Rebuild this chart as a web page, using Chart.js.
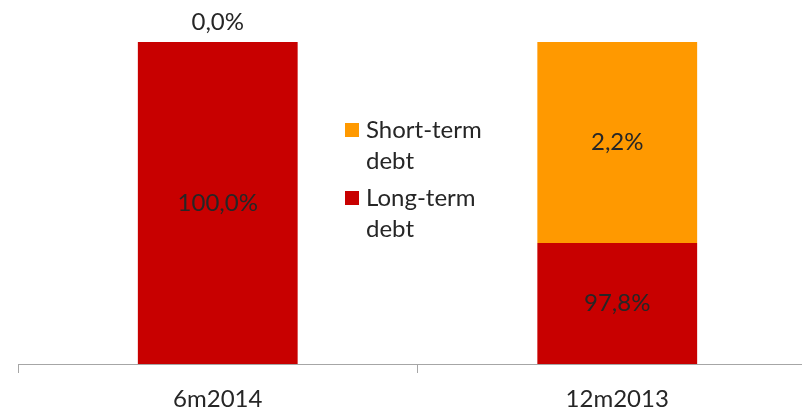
<!DOCTYPE html>
<html>
<head>
<meta charset="utf-8">
<script src="https://cdn.jsdelivr.net/npm/chart.js@4/dist/chart.umd.min.js"></script>
<style>
  html, body { margin: 0; padding: 0; background: #fff; overflow: hidden; }
  #wrap { position: relative; width: 818px; height: 410px; }
</style>
</head>
<body>
<div id="wrap"><canvas id="debtChart"></canvas></div>
<script>
const categories = ['6m2014', '12m2013'];
// bar heights as drawn in the picture (share of the full bar)
const longTerm = [100, 37.6];
const shortTerm = [0, 62.4];
// label texts printed on the bars
const longLabels = ['100,0%', '97,8%'];
const shortLabels = ['0,0%', '2,2%'];

const RED = '#C80000';
const ORANGE = '#FF9900';
const TEXT = '#262626';
const FONT = 'Lato, "Open Sans", sans-serif';

const barLabels = {
  id: 'barLabels',
  afterDatasetsDraw(chart) {
    const ctx = chart.ctx;
    ctx.save();
    ctx.font = '24px ' + FONT;
    ctx.fillStyle = TEXT;
    ctx.textAlign = 'center';
    ctx.textBaseline = 'middle';
    chart.data.datasets.forEach((ds, i) => {
      const meta = chart.getDatasetMeta(i);
      meta.data.forEach((bar, j) => {
        const text = ds.labelTexts[j];
        let y = (bar.y + bar.base) / 2;
        if (ds.data[j] === 0) y = bar.y - 20;
        ctx.fillText(text, bar.x, y);
      });
    });
    ctx.restore();
  }
};

// legend sits inside the plot, between the two bars
const innerLegend = {
  id: 'innerLegend',
  afterDraw(chart) {
    const ctx = chart.ctx;
    const items = [
      { color: ORANGE, lines: ['Short-term', 'debt'], y: 130 },
      { color: RED, lines: ['Long-term', 'debt'], y: 198 }
    ];
    ctx.save();
    ctx.font = '24px ' + FONT;
    ctx.textBaseline = 'middle';
    ctx.textAlign = 'left';
    items.forEach(it => {
      ctx.fillStyle = it.color;
      ctx.fillRect(345, it.y - 7, 14, 14);
      ctx.fillStyle = TEXT;
      it.lines.forEach((l, k) => ctx.fillText(l, 366, it.y + k * 31));
    });
    ctx.restore();
  }
};

new Chart(document.getElementById('debtChart'), {
  type: 'bar',
  data: {
    labels: categories,
    datasets: [
      { label: 'Long-term debt', data: longTerm, backgroundColor: RED, labelTexts: longLabels },
      { label: 'Short-term debt', data: shortTerm, backgroundColor: ORANGE, labelTexts: shortLabels }
    ]
  },
  options: {
    responsive: true,
    maintainAspectRatio: false,
    animation: false,
    layout: { padding: { left: 18, right: 1, top: 42, bottom: 0 } },
    datasets: { bar: { categoryPercentage: 1, barPercentage: 0.4 } },
    plugins: {
      legend: { display: false },
      tooltip: { enabled: false }
    },
    scales: {
      x: {
        stacked: true,
        grid: { drawOnChartArea: false, drawTicks: true, tickLength: 9, color: '#A6A6A6', offset: true },
        border: { color: '#A6A6A6', width: 1 },
        ticks: { color: TEXT, font: { family: FONT, size: 24 }, padding: 12, maxRotation: 0 },
        afterFit(scale) { scale.height = 46; }
      },
      y: {
        stacked: true,
        display: false,
        min: 0,
        max: 100
      }
    }
  },
  plugins: [barLabels, innerLegend]
});
</script>
</body>
</html>
